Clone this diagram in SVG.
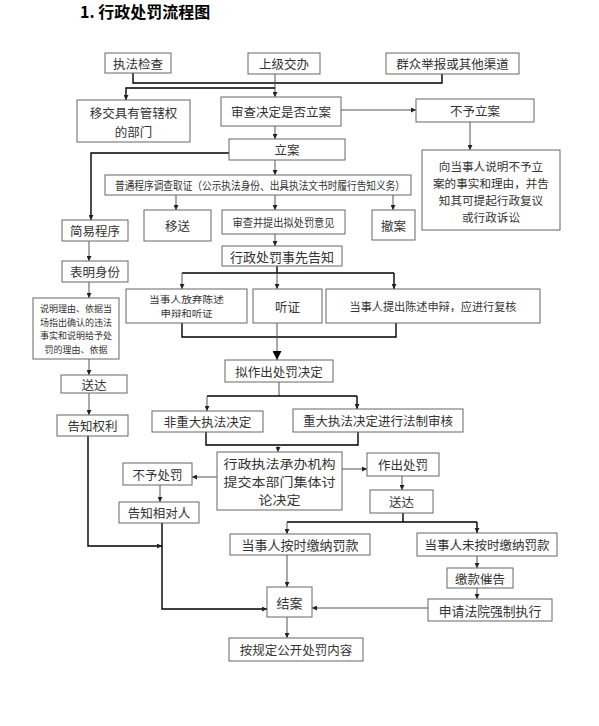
<svg xmlns="http://www.w3.org/2000/svg" width="599" height="726" viewBox="0 0 599 726">
<defs>
<marker id="a" markerUnits="userSpaceOnUse" markerWidth="5" markerHeight="5" refX="5" refY="2.5" orient="auto"><path d="M0,0 L5,2.5 L0,5 z" fill="#222"/></marker>
<marker id="b" markerUnits="userSpaceOnUse" markerWidth="9" markerHeight="9" refX="9" refY="4.5" orient="auto"><path d="M0,0 L9,4.5 L0,9 z" fill="#000"/></marker>
</defs>
<style>
rect{fill:#fff;stroke:#666;stroke-width:1}
text{font-family:"Noto Sans CJK SC","Liberation Sans",sans-serif;font-size:12.5px;fill:#333;text-anchor:middle;dominant-baseline:central}
.t{font-size:16px;font-weight:bold;fill:#000;text-anchor:start;dominant-baseline:auto}
.s{font-size:11px}
.bus{fill:none;stroke:#000;stroke-width:1.4}
.ln{fill:none;stroke:#555;stroke-width:1}
</style>
<rect x="0" y="0" width="599" height="726" style="stroke:none"/>
<text class="t" x="80" y="18">1. 行政处罚流程图</text>

<g id="connectors">
<polyline class="bus" points="133,73 133,83 442,83 442,74"/>
<line class="ln" x1="275" y1="74" x2="275" y2="97" marker-end="url(#a)"/>
<polyline class="bus" points="275,88 126,88 126,100" marker-end="url(#a)"/>
<line class="ln" x1="341" y1="110" x2="416" y2="110" marker-end="url(#a)"/>
<line class="ln" x1="470" y1="122" x2="470" y2="150" marker-end="url(#a)"/>
<line class="ln" x1="275" y1="126" x2="275" y2="139" marker-end="url(#a)"/>
<polyline class="bus" points="229,153 91,153 91,220" marker-end="url(#a)"/>
<line class="ln" x1="275" y1="160" x2="275" y2="175" marker-end="url(#a)"/>
<line class="ln" x1="176" y1="195" x2="176" y2="210" marker-end="url(#a)"/>
<line class="ln" x1="275" y1="195" x2="275" y2="210" marker-end="url(#a)"/>
<line class="ln" x1="393" y1="195" x2="393" y2="210" marker-end="url(#a)"/>
<line class="ln" x1="89" y1="241" x2="89" y2="261" marker-end="url(#a)"/>
<line class="ln" x1="275" y1="234" x2="275" y2="246" marker-end="url(#a)"/>
<line class="ln" x1="89" y1="282" x2="89" y2="298" marker-end="url(#a)"/>
<line class="bus" x1="277" y1="266" x2="277" y2="273"/>
<line class="bus" x1="182" y1="273" x2="394" y2="273"/>
<line class="ln" x1="182" y1="273" x2="182" y2="289" marker-end="url(#a)"/>
<line class="ln" x1="277" y1="273" x2="277" y2="289" marker-end="url(#a)"/>
<line class="bus" x1="394" y1="273" x2="394" y2="289" marker-end="url(#a)"/>
<polyline class="bus" points="182,323 182,337 396,337 396,323"/>
<line class="ln" x1="277" y1="323" x2="277" y2="360" marker-end="url(#b)"/>
<line class="ln" x1="89" y1="359" x2="89" y2="375" marker-end="url(#a)"/>
<line class="ln" x1="279" y1="382" x2="279" y2="396"/>
<line class="bus" x1="207" y1="396" x2="357" y2="396"/>
<line class="ln" x1="207" y1="396" x2="207" y2="411" marker-end="url(#a)"/>
<line class="bus" x1="357" y1="396" x2="357" y2="409" marker-end="url(#a)"/>
<line class="ln" x1="89" y1="393" x2="89" y2="415" marker-end="url(#a)"/>
<polyline class="bus" points="206,432 206,445 358,445 358,432"/>
<line class="ln" x1="278" y1="445" x2="278" y2="452" marker-end="url(#a)"/>
<line class="ln" x1="217" y1="477" x2="192" y2="477" marker-end="url(#a)"/>
<line class="ln" x1="160" y1="485" x2="160" y2="502" marker-end="url(#a)"/>
<line class="ln" x1="342" y1="469" x2="367" y2="469" marker-end="url(#a)"/>
<line class="ln" x1="402" y1="476" x2="402" y2="490" marker-end="url(#a)"/>
<line class="bus" x1="403" y1="513" x2="403" y2="522"/>
<line class="bus" x1="287" y1="522" x2="477" y2="522"/>
<line class="ln" x1="287" y1="522" x2="287" y2="534" marker-end="url(#a)"/>
<line class="bus" x1="477" y1="522" x2="477" y2="533" marker-end="url(#a)"/>
<polyline class="bus" points="88,436 88,546 162,546" marker-end="url(#a)"/>
<polyline class="bus" points="162,523 162,609 267,609" marker-end="url(#a)"/>
<line class="ln" x1="287" y1="555" x2="287" y2="587" marker-end="url(#a)"/>
<line class="ln" x1="477" y1="556" x2="477" y2="568" marker-end="url(#a)"/>
<line class="ln" x1="477" y1="588" x2="477" y2="599" marker-end="url(#a)"/>
<line class="ln" x1="428" y1="608" x2="312" y2="608" marker-end="url(#a)"/>
<line class="ln" x1="287" y1="617" x2="287" y2="638" marker-end="url(#a)"/>
</g>

<g id="n1"><rect x="105" y="53" width="66" height="20"/><text x="138" y="63">执法检查</text></g>
<g id="n2"><rect x="248" y="53" width="72" height="21"/><text x="284" y="63.5">上级交办</text></g>
<g id="n3"><rect x="386" y="53" width="133" height="21"/><text x="452.5" y="63.5">群众举报或其他渠道</text></g>
<g id="n4"><rect x="77" y="100" width="113" height="42"/><text><tspan x="133.5" y="112">移交具有管辖权</tspan><tspan x="133.5" y="130.5">的部门</tspan></text></g>
<g id="n5"><rect x="221" y="97" width="120" height="29"/><text x="281" y="111.5">审查决定是否立案</text></g>
<g id="n6"><rect x="416" y="99" width="118" height="23"/><text x="475" y="110.5">不予立案</text></g>
<g id="n7"><rect x="229" y="139" width="116" height="21"/><text x="287" y="149.5">立案</text></g>
<g id="n8"><rect x="422" y="150" width="138" height="80"/><text style="font-size:11.6px"><tspan x="491" y="165.5">向当事人说明不予立</tspan><tspan x="491" y="182.5">案的事实和理由，并告</tspan><tspan x="491" y="199.5">知其可提起行政复议</tspan><tspan x="491" y="216.5">或行政诉讼</tspan></text></g>
<g id="n9"><rect x="105" y="175" width="306" height="20"/><text class="s" x="260" y="185" textLength="290" lengthAdjust="spacingAndGlyphs">普通程序调查取证（公示执法身份、出具执法文书时履行告知义务）</text></g>
<g id="n10"><rect x="144" y="210" width="67" height="31"/><text x="177.5" y="225.5">移送</text></g>
<g id="n11"><rect x="222" y="210" width="123" height="24"/><text class="s" x="283.5" y="222" textLength="102" lengthAdjust="spacingAndGlyphs">审查并提出拟处罚意见</text></g>
<g id="n12"><rect x="372" y="210" width="43" height="30"/><text x="393.5" y="225">撤案</text></g>
<g id="n13"><rect x="62" y="220" width="66" height="21"/><text x="95" y="230.5">简易程序</text></g>
<g id="n14"><rect x="222" y="246" width="120" height="20"/><text x="282" y="256" style="font-size:13px">行政处罚事先告知</text></g>
<g id="n15"><rect x="62" y="261" width="66" height="21"/><text x="95" y="271.5">表明身份</text></g>
<g id="n16"><rect x="126" y="289" width="121" height="34"/><text style="font-size:9.3px"><tspan x="186.5" y="299" textLength="75" lengthAdjust="spacingAndGlyphs">当事人放弃陈述</tspan><tspan x="186.5" y="313" textLength="52" lengthAdjust="spacingAndGlyphs">申辩和听证</tspan></text></g>
<g id="n17"><rect x="253" y="289" width="69" height="34"/><text x="287.5" y="306">听证</text></g>
<g id="n18"><rect x="326" y="289" width="214" height="34"/><text x="433" y="306" style="font-size:11.5px" textLength="167" lengthAdjust="spacingAndGlyphs">当事人提出陈述申辩，应进行复核</text></g>
<g id="n19"><rect x="33" y="298" width="86" height="61"/><text style="font-size:9px"><tspan x="76" y="308" textLength="72" lengthAdjust="spacingAndGlyphs">说明理由、依据当</tspan><tspan x="76" y="321.5" textLength="72" lengthAdjust="spacingAndGlyphs">场指出确认的违法</tspan><tspan x="76" y="335" textLength="72" lengthAdjust="spacingAndGlyphs">事实和说明给予处</tspan><tspan x="76" y="348.5" textLength="63" lengthAdjust="spacingAndGlyphs">罚的理由、依据</tspan></text></g>
<g id="n20"><rect x="225" y="360" width="108" height="22"/><text x="279" y="371">拟作出处罚决定</text></g>
<g id="n21"><rect x="61" y="375" width="66" height="18"/><text x="94" y="384">送达</text></g>
<g id="n22"><rect x="152" y="411" width="111" height="21"/><text x="207.5" y="421.5">非重大执法决定</text></g>
<g id="n23"><rect x="293" y="409" width="170" height="23"/><text x="378" y="420.5">重大执法决定进行法制审核</text></g>
<g id="n24"><rect x="57" y="415" width="71" height="21"/><text x="92.5" y="425.5">告知权利</text></g>
<g id="n25"><rect x="217" y="452" width="125" height="58"/><text style="font-size:12.5px"><tspan x="279.5" y="462.8" textLength="112" lengthAdjust="spacingAndGlyphs">行政执法承办机构</tspan><tspan x="279.5" y="481" textLength="112" lengthAdjust="spacingAndGlyphs">提交本部门集体讨</tspan><tspan x="279.5" y="499.2" textLength="42" lengthAdjust="spacingAndGlyphs">论决定</tspan></text></g>
<g id="n26"><rect x="123" y="463" width="69" height="22"/><text x="157.5" y="474">不予处罚</text></g>
<g id="n27"><rect x="367" y="453" width="72" height="23"/><text x="403" y="464.5">作出处罚</text></g>
<g id="n28"><rect x="370" y="490" width="63" height="23"/><text x="401.5" y="501.5">送达</text></g>
<g id="n29"><rect x="119" y="502" width="80" height="21"/><text x="159" y="512.5">告知相对人</text></g>
<g id="n30"><rect x="230" y="534" width="140" height="21"/><text x="300" y="544.5" style="font-size:13px">当事人按时缴纳罚款</text></g>
<g id="n31"><rect x="417" y="533" width="140" height="23"/><text x="487" y="544.5">当事人未按时缴纳罚款</text></g>
<g id="n32"><rect x="447" y="568" width="66" height="20"/><text x="480" y="578">缴款催告</text></g>
<g id="n33"><rect x="267" y="587" width="45" height="30"/><text x="289.5" y="602" style="font-size:13px">结案</text></g>
<g id="n34"><rect x="428" y="599" width="124" height="22"/><text x="490" y="610" style="font-size:12.8px">申请法院强制执行</text></g>
<g id="n35"><rect x="229" y="638" width="134" height="23"/><text x="296" y="649.5">按规定公开处罚内容</text></g>
</svg>
